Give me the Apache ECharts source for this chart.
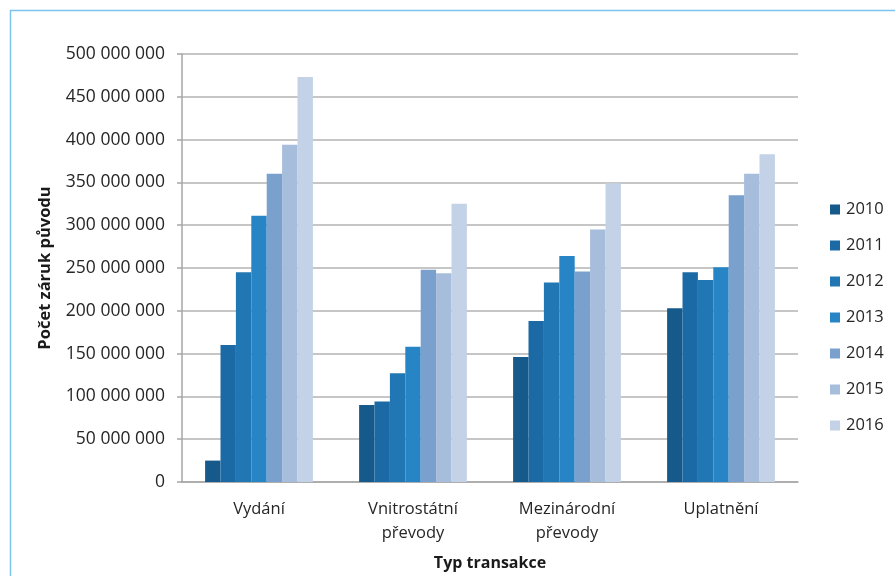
<!DOCTYPE html>
<html>
<head>
<meta charset="utf-8">
<script src="https://cdn.jsdelivr.net/npm/echarts@6/dist/echarts.min.js"></script>
<style>
html,body{margin:0;padding:0;background:#fff;}
#c{width:895px;height:576px;}
</style>
</head>
<body>
<div id="c"></div>
<script>
const categories = ['Vydání', 'Vnitrostátní\npřevody', 'Mezinárodní\npřevody', 'Uplatnění'];
const years = ['2010', '2011', '2012', '2013', '2014', '2015', '2016'];
const s2010 = [25000000, 90000000, 146000000, 203000000];
const s2011 = [160000000, 94000000, 188000000, 245000000];
const s2012 = [245000000, 127000000, 233000000, 236000000];
const s2013 = [311000000, 158000000, 264000000, 251000000];
const s2014 = [360000000, 248000000, 246000000, 335000000];
const s2015 = [394000000, 244000000, 295000000, 360000000];
const s2016 = [473000000, 325000000, 349000000, 383000000];
const yTicks = [0, 50000000, 100000000, 150000000, 200000000, 250000000, 300000000, 350000000, 400000000, 450000000, 500000000];

const seriesData = [s2010, s2011, s2012, s2013, s2014, s2015, s2016];
const colors = ['#16598b', '#1c6aa5', '#2077b3', '#2785c5', '#7aa1cd', '#a7bddc', '#c3d2e6'];
const font = 'Open Sans';

function fmt(v) {
  return String(v).replace(/\B(?=(\d{3})+(?!\d))/g, ' ');
}

const chart = echarts.init(document.getElementById('c'));
chart.setOption({
  animation: false,
  color: colors,
  graphic: [{
    type: 'rect',
    shape: { x: 10.5, y: 10.5, width: 900, height: 600 },
    style: { fill: 'none', stroke: '#7cc4ee', lineWidth: 1.5 },
    silent: true
  }],
  grid: { left: 182, right: 97, top: 54, bottom: 93 },
  legend: {
    orient: 'vertical',
    left: 825,
    top: 196,
    itemWidth: 10,
    itemHeight: 10,
    itemGap: 19,
    icon: 'rect',
    data: years,
    textStyle: { fontFamily: font, fontSize: 16.5, color: '#262626', padding: [0, 0, 0, 1] }
  },
  xAxis: {
    type: 'category',
    data: categories,
    name: 'Typ transakce',
    nameLocation: 'middle',
    nameGap: 73,
    nameTextStyle: { fontFamily: font, fontSize: 16, fontWeight: 'bold', color: '#1a1a1a' },
    axisLine: { lineStyle: { color: '#a6a6a6', width: 1.5 } },
    axisTick: { show: false },
    axisLabel: { fontFamily: font, fontSize: 16.5, color: '#262626', margin: 15, lineHeight: 24 }
  },
  yAxis: {
    type: 'value',
    min: 0,
    max: 500000000,
    interval: 50000000,
    name: 'Počet záruk původu',
    nameLocation: 'middle',
    nameGap: 128,
    nameTextStyle: { fontFamily: font, fontSize: 16.5, fontWeight: 'bold', color: '#1a1a1a' },
    axisLine: { show: true, lineStyle: { color: '#a6a6a6', width: 1.5 } },
    axisTick: { show: true, length: 5, lineStyle: { color: '#a6a6a6', width: 1.5 } },
    splitLine: { lineStyle: { color: '#b3b3b3', width: 1.5 } },
    axisLabel: {
      fontFamily: font, fontSize: 17.5, color: '#262626', margin: 17,
      formatter: function (v) { return yTicks.indexOf(v) >= 0 ? fmt(v) : ''; }
    }
  },
  series: years.map(function (y, i) {
    return {
      name: y,
      type: 'bar',
      data: seriesData[i],
      barGap: '0%',
      barCategoryGap: '30%',
      itemStyle: { color: colors[i] }
    };
  })
});
</script>
</body>
</html>
